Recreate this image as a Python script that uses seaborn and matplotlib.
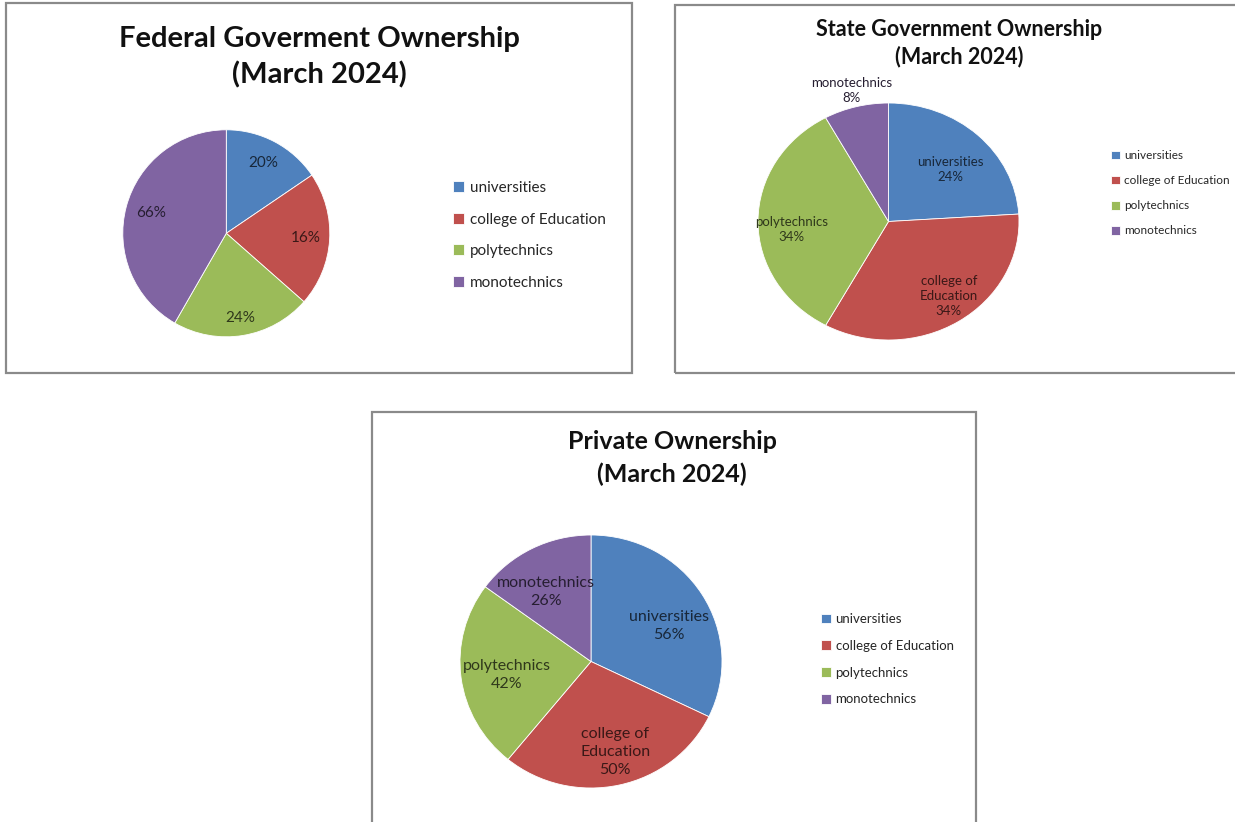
import matplotlib
matplotlib.use('Agg')
import matplotlib.pyplot as plt
import seaborn as sns
import numpy as np
from matplotlib.patches import Rectangle

# ---------------- data ----------------
categories = ['universities', 'college of Education', 'polytechnics', 'monotechnics']

federal_values = [15.5, 21.0, 21.8, 41.7]
federal_labels = ['20%', '16%', '24%', '66%']

state_values = [24, 34, 34, 8]
state_labels = ['universities\n24%', 'college of\nEducation\n34%',
                'polytechnics\n34%', 'monotechnics\n8%']

private_values = [56, 50, 42, 26]
private_labels = ['universities\n56%', 'college of\nEducation\n50%',
                  'polytechnics\n42%', 'monotechnics\n26%']

titles = ['Federal Goverment Ownership\n(March 2024)',
          'State Government Ownership\n(March 2024)',
          'Private Ownership\n(March 2024)']

# ---------------- style ----------------
sns.set_theme(style='white')
plt.rcParams['font.family'] = ['Lato', 'DejaVu Sans']
palette = sns.color_palette(['#4F81BD', '#C0504D', '#9BBB59', '#8064A2'])

W, H = 1235, 822
fig = plt.figure(figsize=(W / 100, H / 100), dpi=100)
fig.patch.set_facecolor('white')


def px_rect(x0, y0, x1, y1):
    return [x0 / W, 1 - y1 / H, (x1 - x0) / W, (y1 - y0) / H]


# panel frames
for (x0, y0, x1, y1) in [(6, 3, 632, 373), (675, 5, 1240, 373), (372, 412, 976, 840)]:
    fig.add_artist(Rectangle((x0 / W, 1 - y1 / H), (x1 - x0) / W, (y1 - y0) / H,
                             transform=fig.transFigure, fill=False,
                             ec='#8a8a8a', lw=1.6))


def draw_pie(values, labels, cx, cy, rx, ry, label_r, label_dang, fs, ls):
    pad = 1.25
    ax = fig.add_axes(px_rect(cx - rx * pad, cy - ry * pad, cx + rx * pad, cy + ry * pad))
    ax.patch.set_visible(False)
    wedges, texts = ax.pie(values, colors=palette, startangle=90, counterclock=False,
                           labels=labels, labeldistance=0.7,
                           wedgeprops=dict(edgecolor='white', linewidth=0.6),
                           textprops=dict(fontsize=fs))
    ax.set_aspect('auto')
    ax.set_xlim(-pad, pad)
    ax.set_ylim(-pad, pad)
    for w, t, r, da, c in zip(wedges, texts, label_r, label_dang, palette):
        ang = np.deg2rad((w.theta1 + w.theta2) / 2 + da)
        t.set_position((r * np.cos(ang), r * np.sin(ang)))
        t.set_ha('center')
        t.set_va('center')
        t.set_multialignment('center')
        t.set_linespacing(ls)
        t.set_color(tuple(np.array(c) * 0.3))
    return ax, wedges


def add_legend(wedges, x, y, fs, spacing):
    fig.legend(wedges, categories, loc='upper left',
               bbox_to_anchor=(x / W, 1 - y / H), frameon=False, fontsize=fs,
               handlelength=0.75, handleheight=0.75, handletextpad=0.35,
               labelspacing=spacing, borderaxespad=0, borderpad=0,
               labelcolor='#262626')


# Federal
_, w1 = draw_pie(federal_values, federal_labels, 226.3, 233.3, 103.5, 103.5,
                 [0.77, 0.77, 0.83, 0.75], [0, 0, 0, 0], 11, 1.3)
fig.text(319 / W, 1 - 57 / H, titles[0], ha='center', va='center',
         fontsize=21, fontweight='bold', linespacing=1.4, color='#111111')
add_legend(w1, 453, 181, 11, 1.15)

# State
_, w2 = draw_pie(state_values, state_labels, 888.5, 221.5, 130.5, 118.5,
                 [0.65, 0.78, 0.745, 1.14], [-4, 4, 5, 0], 9.5, 1.3)
fig.text(959 / W, 1 - 43.5 / H, titles[1], ha='center', va='center',
         fontsize=15.5, fontweight='bold', linespacing=1.33, color='#111111')
add_legend(w2, 1111, 150, 8.5, 1.2)

# Private
_, w3 = draw_pie(private_values, private_labels, 591, 661.5, 131, 126.5,
                 [0.66, 0.74, 0.65, 0.65], [-7, 2, 2, 5], 11.5, 1.35)
fig.text(672 / W, 1 - 458 / H, titles[2], ha='center', va='center',
         fontsize=18, fontweight='bold', linespacing=1.45, color='#111111')
add_legend(w3, 821, 613, 9.5, 1.12)

fig.savefig('out.png', dpi=100, facecolor='white')
